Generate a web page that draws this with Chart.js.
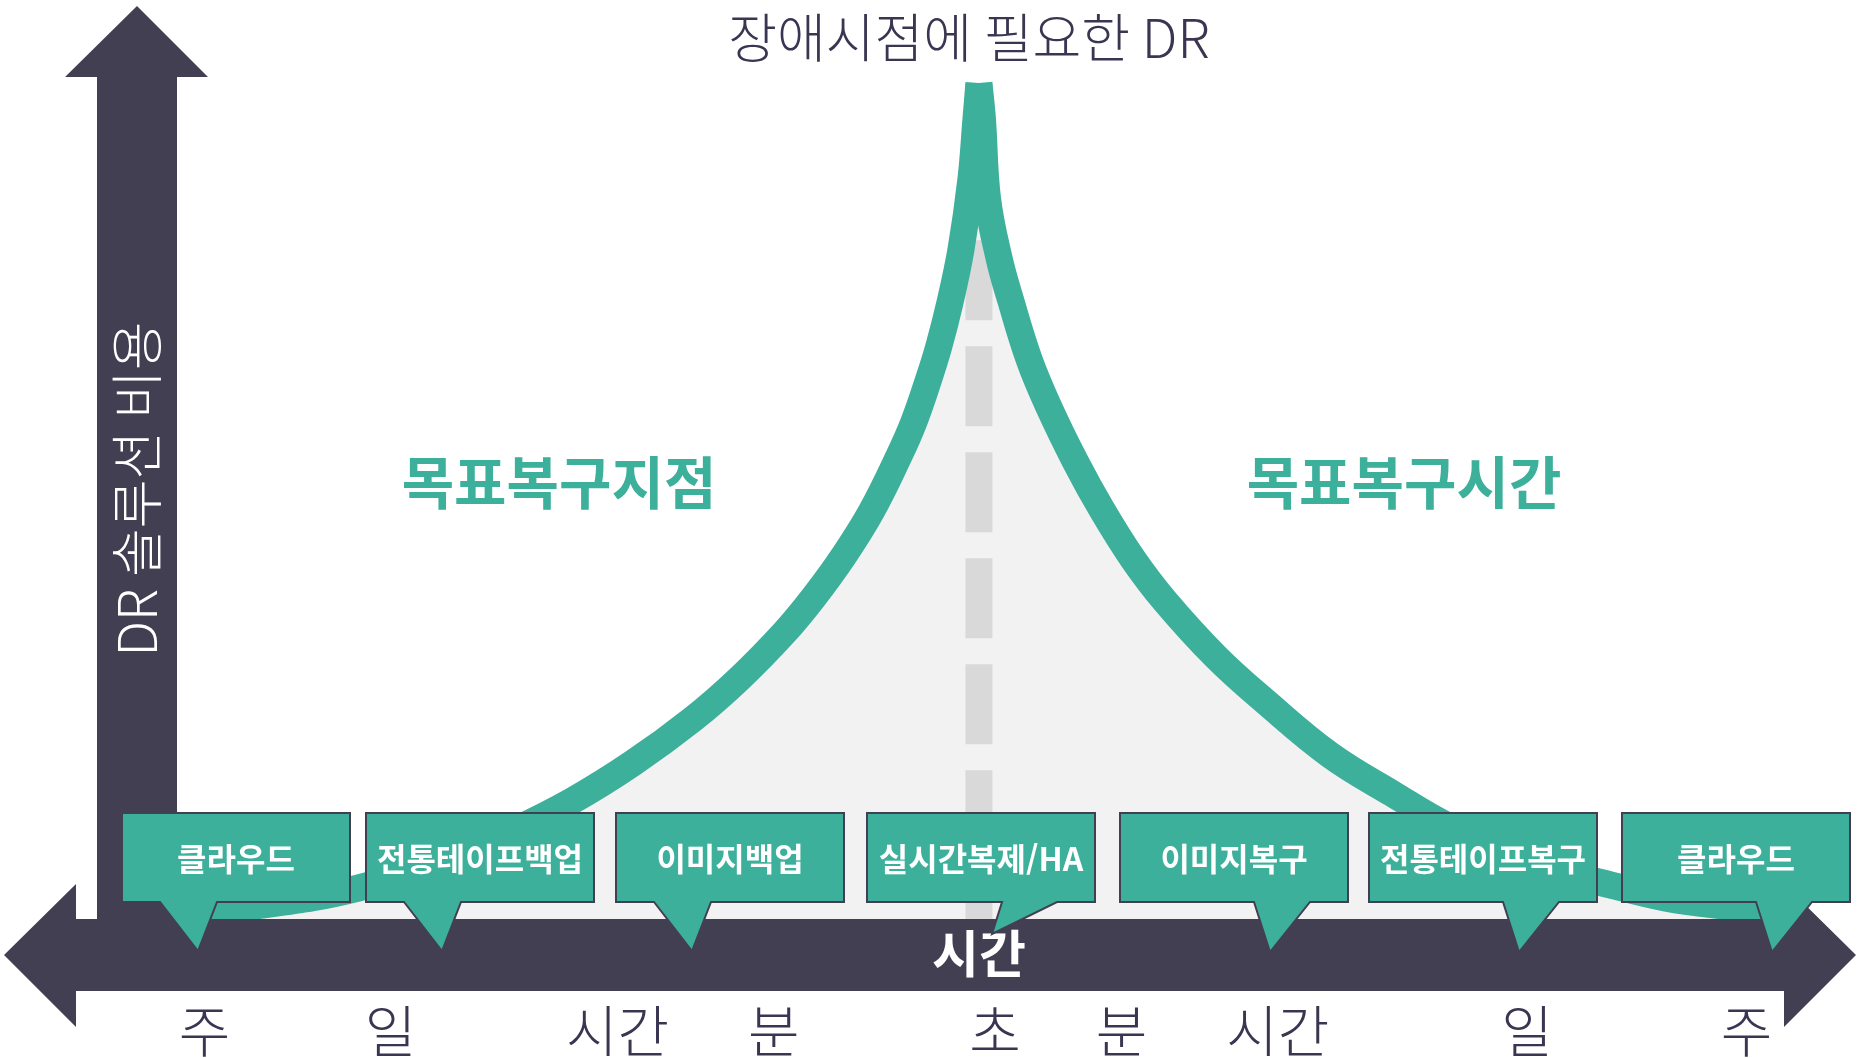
<!DOCTYPE html>
<html lang="ko">
<head>
<meta charset="utf-8">
<title>장애시점에 필요한 DR</title>
<script src="https://cdn.jsdelivr.net/npm/chart.js@4.4.1/dist/chart.umd.min.js"></script>
<style>
  html, body { margin: 0; padding: 0; background: #fff; }
  #wrap { width: 1860px; height: 1058px; position: relative; }
</style>
</head>
<body>
<div id="wrap"><canvas id="chart"></canvas></div>
<script>
// x = time (0-100, disaster point in the middle), y = DR solution cost (0-100)
var timeTicks = ['주', '일', '시간', '분', '초', '분', '시간', '일', '주'];
var tickValues = [11.0, 21.0, 33.2, 41.6, 53.5, 60.3, 68.7, 82.1, 93.9];
var solutions = ['클라우드', '전통테이프백업', '이미지백업', '실시간복제/HA', '이미지복구', '전통테이프복구', '클라우드'];

// RPO side (left of the disaster point)
var rpoX = [10.22, 13.98, 19.25, 24.19, 27.47, 30.75, 34.03, 37.26, 39.73, 42.20, 43.76,
            45.32, 46.83, 48.33, 49.14, 49.95, 50.48, 51.08, 51.67, 52.20, 52.47, 52.63];
var rpoY = [0.87, 1.48, 3.37, 6.64, 9.47, 12.84, 16.97, 21.76, 26.12, 31.23, 35.04,
            39.39, 44.29, 50.38, 54.13, 58.87, 62.35, 67.14, 72.91, 80.52, 87.05, 90.97];
// RTO side (right of the disaster point)
var rtoX = [52.63, 52.82, 53.09, 53.71, 54.35, 55.32, 56.34, 57.80, 59.25, 60.91, 62.63,
            65.38, 68.12, 71.51, 74.89, 77.74, 80.65, 83.60, 86.56, 89.52, 92.47, 96.24];
var rtoY = [90.97, 87.05, 78.45, 71.93, 67.25, 60.94, 55.93, 49.84, 44.51, 39.17, 34.60,
            28.51, 23.50, 17.85, 13.60, 10.23, 7.79, 5.33, 3.72, 2.29, 1.45, 0.76];
var disasterX = 52.63;
var disasterTop = 85.4;

var teal = '#3db09b';
var dark = '#433f53';
var navy = '#3b3551';
var kr = '"Noto Sans CJK KR", "Noto Sans", sans-serif';

function toPoints(xs, ys) {
    return xs.map(function(x, i) { return { x: x, y: ys[i] }; });
}
var rpoSide = toPoints(rpoX, rpoY);
var rtoSide = toPoints(rtoX, rtoY);

function text(ctx, str, x, y, font, color) {
    ctx.font = font;
    ctx.fillStyle = color;
    ctx.textAlign = 'center';
    ctx.textBaseline = 'middle';
    ctx.fillText(str, x, y);
}

var decor = {
    id: 'decor',
    afterDraw: function(chart) {
        var ctx = chart.ctx;
        var top = chart.chartArea.bottom; // top edge of the time arrow
        var mid = top + 36;
        ctx.save();

        // cost arrow (vertical)
        ctx.fillStyle = dark;
        ctx.beginPath();
        ctx.moveTo(137, 6);
        ctx.lineTo(208, 77);
        ctx.lineTo(177, 77);
        ctx.lineTo(177, mid);
        ctx.lineTo(97, mid);
        ctx.lineTo(97, 77);
        ctx.lineTo(65, 77);
        ctx.closePath();
        ctx.fill();

        // time arrow (both ways)
        ctx.beginPath();
        ctx.moveTo(4, mid);
        ctx.lineTo(76, mid - 71);
        ctx.lineTo(76, top);
        ctx.lineTo(1784, top);
        ctx.lineTo(1784, mid - 71);
        ctx.lineTo(1856, mid);
        ctx.lineTo(1784, mid + 72);
        ctx.lineTo(1784, top + 72);
        ctx.lineTo(76, top + 72);
        ctx.lineTo(76, mid + 72);
        ctx.closePath();
        ctx.fill();

        text(ctx, '시간', 979, mid - 1, 'bold 51px ' + kr, '#fff');

        ctx.save();
        ctx.translate(137, 489);
        ctx.rotate(-Math.PI / 2);
        text(ctx, 'DR 솔루션 비용', 0, 0, '300 53px ' + kr, '#fff');
        ctx.restore();

        text(ctx, '장애시점에 필요한 DR', 969, 38, '300 53px ' + kr, navy);
        text(ctx, '목표복구지점', 559, 482, 'bold 57px ' + kr, teal);
        text(ctx, '목표복구시간', 1404, 482, 'bold 57px ' + kr, teal);

        // callouts
        var boxLeft = [122, 366, 616, 867, 1120, 1369, 1622];
        var boxTop = 813, boxH = 89, boxW = 228;
        solutions.forEach(function(label, i) {
            var left = boxLeft[i], right = left + boxW, bottom = boxTop + boxH;
            // pointer: base left, base right, tip x (from box left), tip drop
            var p = i < 3 ? [38, 95, 76, 49] : (i === 3 ? [135, 190, 125, 32] : [134, 190, 150, 50]);
            ctx.beginPath();
            ctx.moveTo(left, boxTop);
            ctx.lineTo(right, boxTop);
            ctx.lineTo(right, bottom);
            ctx.lineTo(left + p[1], bottom);
            ctx.lineTo(left + p[2], bottom + p[3]);
            ctx.lineTo(left + p[0], bottom);
            ctx.lineTo(left, bottom);
            ctx.closePath();
            ctx.fillStyle = teal;
            ctx.fill();
            ctx.lineWidth = 2;
            ctx.strokeStyle = dark;
            ctx.stroke();
            text(ctx, label, left + boxW / 2, 859, 'bold 32px ' + kr, '#fff');
        });
        ctx.restore();
    }
};

new Chart(document.getElementById('chart'), {
    type: 'line',
    data: {
        datasets: [
            {
                data: rpoSide, borderWidth: 0, pointRadius: 0, fill: 'origin',
                backgroundColor: '#f2f2f2', tension: 0.4, order: 4
            },
            {
                data: rtoSide, borderWidth: 0, pointRadius: 0, fill: 'origin',
                backgroundColor: '#f2f2f2', tension: 0.4, order: 3
            },
            {
                data: [{ x: disasterX, y: disasterTop }, { x: disasterX, y: 0 }],
                borderColor: '#d9d9d9', borderWidth: 27, borderDash: [80, 26],
                borderCapStyle: 'butt', pointRadius: 0, fill: false, tension: 0, order: 2
            },
            {
                data: rpoSide, borderColor: teal, borderWidth: 27, borderCapStyle: 'butt',
                pointRadius: 0, fill: false, tension: 0.4, order: 1
            },
            {
                data: rtoSide, borderColor: teal, borderWidth: 27, borderCapStyle: 'butt',
                pointRadius: 0, fill: false, tension: 0.4, order: 1
            }
        ]
    },
    options: {
        responsive: true,
        maintainAspectRatio: false,
        animation: false,
        events: [],
        layout: { padding: 0 },
        plugins: { legend: { display: false }, tooltip: { enabled: false } },
        scales: {
            x: {
                type: 'linear', min: 0, max: 100, position: 'bottom',
                grid: { display: false, drawTicks: false },
                border: { display: false },
                afterBuildTicks: function(s) {
                    s.ticks = tickValues.map(function(v) { return { value: v }; });
                },
                afterFit: function(s) { s.height = 139; },
                ticks: {
                    autoSkip: false, maxRotation: 0, padding: 78, color: navy,
                    font: { family: kr, size: 56, weight: '300' },
                    callback: function(v, i) { return timeTicks[i]; }
                }
            },
            y: { display: false, min: 0, max: 100 }
        }
    },
    plugins: [decor]
});
</script>
</body>
</html>
